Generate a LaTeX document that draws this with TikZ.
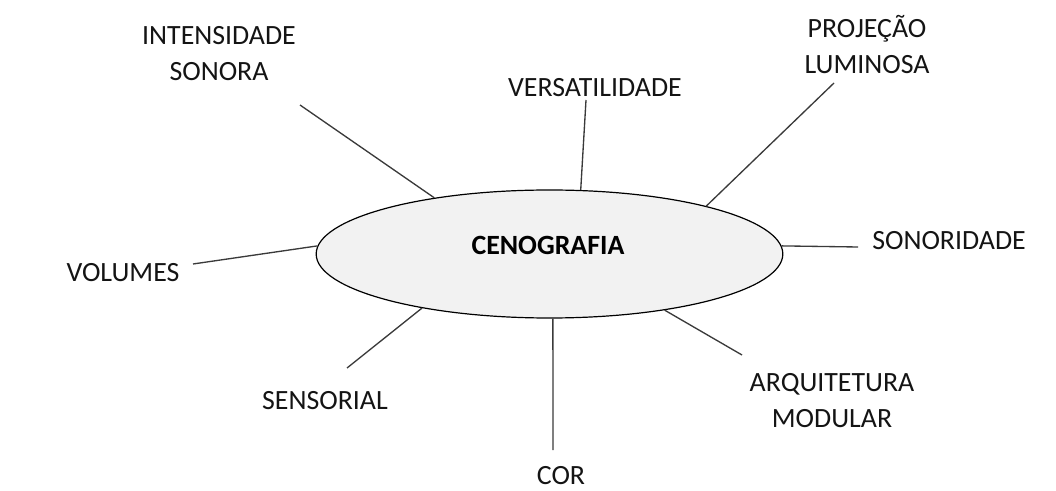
\documentclass[tikz,border=0pt]{standalone}
\usepackage{fontspec}
\setmainfont{Carlito}
\usetikzlibrary{shapes.geometric}
\definecolor{ellfill}{HTML}{F2F2F2}
\definecolor{linkgray}{HTML}{3A3A3A}
\tikzset{
  hub/.style   = {draw=black, ellipse, fill=ellfill, line width=0.9pt, inner sep=0pt,
                  minimum width=350pt, minimum height=96pt},
  leaf/.style  = {align=center, inner sep=0pt, text=black!92,
                  font=\fontsize{20.9}{27}\selectfont},
  link/.style  = {draw=linkgray, line width=1pt},
}
\begin{document}
\begin{tikzpicture}[x=0.75pt,y=-0.75pt]
  \useasboundingbox (0,0) rectangle (1056,491);

  \node[hub] (cen) at (549.5,254) {};
  \node[font=\fontsize{20.9}{27}\selectfont\bfseries, inner sep=0pt] (cenlabel) at (548,245) {CENOGRAFIA};

  % labels around the hub
  \node[leaf] (inten) at (219,54)  {INTENSIDADE\\SONORA};
  \node[leaf] (versa) at (595,88)  {VERSATILIDADE};
  \node[leaf] (proj)  at (867,45)  {PROJEÇÃO\\LUMINOSA};
  \node[leaf] (sonor) at (949,241) {SONORIDADE};
  \node[leaf] (volum) at (123,273) {VOLUMES};
  \node[leaf] (senso) at (325,401) {SENSORIAL};
  \node[leaf] (cor)   at (561,476) {COR};
  \node[leaf] (arqui) at (832,401) {ARQUITETURA\\MODULAR};

  % free ends of the spokes
  \coordinate (intEnd) at (300,105);
  \coordinate (verEnd) at (586,100);
  \coordinate (proEnd) at (834,83);
  \coordinate (sonEnd) at (858,247);
  \coordinate (volEnd) at (193,264);
  \coordinate (senEnd) at (347,368);
  \coordinate (corEnd) at (553,450);
  \coordinate (arqEnd) at (742,355);

  \draw[link] (cen.154.5) -- (intEnd);
  \draw[link] (cen.64.5)  -- (verEnd);
  \draw[link] (cen.17.8)  -- (proEnd);
  \draw[link] (cen.2)     -- (sonEnd);
  \draw[link] (cen.178.8) -- (volEnd);
  \draw[link] (cen.-157)  -- (senEnd);
  \draw[link] (cen.-87)   -- (corEnd);
  \draw[link] (cen.-26)   -- (arqEnd);
\end{tikzpicture}
\end{document}
